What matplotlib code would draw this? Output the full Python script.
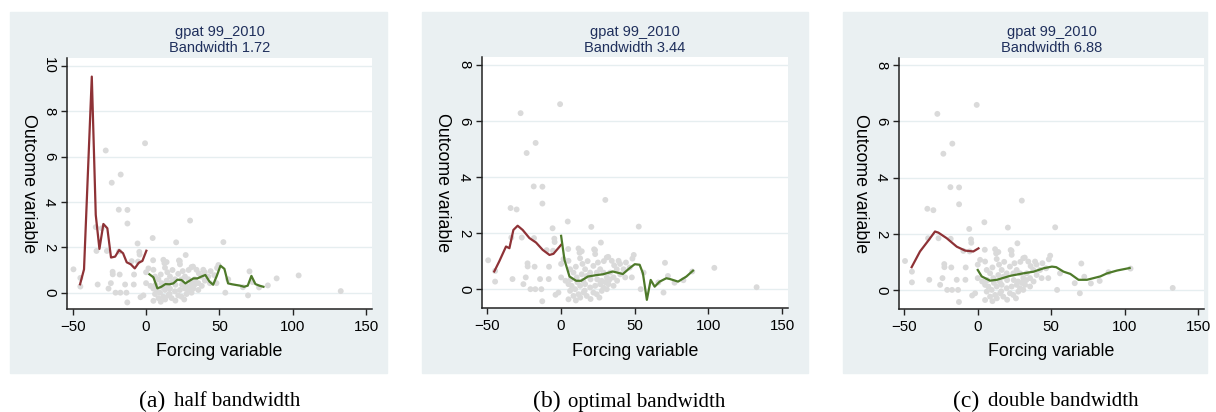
import numpy as np
import matplotlib
matplotlib.use('Agg')
import matplotlib.pyplot as plt
from matplotlib.patches import Rectangle

plt.rcParams['font.family'] = ['Liberation Sans', 'DejaVu Sans']

# scatter of raw observations (same in all panels)
pts_x = [-49.5, -44.8, -44.8, -33.0, -34.3, -30.2, -27.5, -23.4, -17.3, -18.6, -12.7, -12.7,
         -33.8, -26.7, -18.4, -25.6, -24.0, -22.8, -22.7, -18.0, -20.8, -17.5, -13.4, -14.3,
         -12.8, -8.2, -8.4, -5.8, -4.6, -4.4, -5.5, -9.8, -3.8, -1.8, -0.7, 0.0, 0.0,
         4.5, 20.5, 52.7, 30.0, 27.0, 4.8, 11.8, 14.0, 23.0, 32.0, 49.3, 48.4, 70.5, 69.5,
         54.0, 66.0, 77.0, 83.0, 89.0, 104.0, 132.7, 72.5, 56.0,
         12.5, 12.9, 22.4, 23.1, 31.0, 34.4, 39.0, 1.6, 5.0, 6.1, 8.4, 10.6, 14.0, 16.3,
         17.4, 19.7, 21.9, 24.2, 26.5, 28.8, 31.0, 33.3, 35.6, 37.8, 40.1, 42.4, 43.5, 46.5,
         48.0, 5.0, 7.2, 9.5, 12.9, 16.3, 19.7, 23.1, 26.5, 28.8, 32.2, 35.6, 8.4, 11.8,
         15.2, 17.4, 21.9, 24.2, 27.6, 31.0, 6.1, 5.0, 3.0, 10.0, 14.5, 18.0, 25.0, 29.0,
         36.0, 40.0, 44.0, 6.5, 11.0, 15.0, 20.0, 24.5, 27.5, 30.0, 33.0, 38.0, 13.0, 20.0,
         26.0, 10.0, 16.0]
pts_y = [1.03, 0.65, 0.27, 0.36, 2.89, 2.84, 6.27, 4.85, 5.21, 3.66, 3.65, 3.05,
         1.84, 1.84, 1.82, 0.18, 0.42, 0.92, 0.81, 0.80, 0.0, 0.0, 0.0, 0.36,
         -0.43, 0.80, 0.36, 2.17, 1.80, 1.68, 1.37, 1.39, -0.20, -0.12, 6.59, 0.90, 0.42,
         2.41, 2.22, 2.23, 3.18, 1.66, 1.43, 1.45, 1.35, 1.39, 1.15, 1.22, 1.09, 0.94, -0.12,
         0.0, 0.24, 0.23, 0.32, 0.63, 0.76, 0.07, 0.47, 0.59,
         1.30, 1.10, 1.42, 1.25, 1.13, 1.01, 1.01, 1.07, 1.01, 0.71, 0.59, 0.42, 0.53, 0.71,
         0.47, 0.59, 0.83, 0.59, 0.71, 0.59, 0.42, 0.59, 0.42, 0.71, 0.53, 0.71, 0.42, 0.77,
         0.42, 0.18, 0.12, 0.0, 0.12, 0.18, 0.06, 0.12, 0.18, 0.06, 0.18, 0.12, -0.24, -0.18,
         -0.12, -0.24, -0.12, -0.18, -0.06, 0.0, -0.06, -0.36, 0.30, 0.80, 0.90, 1.00, 0.95, 1.00,
         0.85, 0.90, 0.95, 0.35, 0.25, 0.30, 0.35, 0.35, 0.30, 0.25, 0.35, 0.30, -0.30, -0.35,
         -0.30, -0.40, -0.05]

# local fits, panel (a) half bandwidth
a_left_x = [-45.0, -42.3, -37.0, -34.3, -31.8, -29.1, -26.4, -23.9, -21.1, -18.4, -15.7,
            -13.2, -10.4, -7.7, -5.0, -2.5, 0.2]
a_left_y = [0.37, 1.03, 9.53, 3.43, 1.93, 3.03, 2.84, 1.55, 1.59, 1.88, 1.74,
            1.34, 1.25, 1.07, 1.32, 1.40, 1.85]
a_right_x = [2.3, 5.0, 7.7, 10.4, 13.2, 15.9, 18.6, 21.3, 24.1, 26.8, 29.5, 32.3, 35.0, 37.7,
             40.4, 43.2, 45.7, 48.2, 50.7, 53.4, 55.9, 58.6, 61.3, 64.1, 66.8, 69.3, 71.8,
             74.5, 77.2, 80.0]
a_right_y = [0.81, 0.68, 0.19, 0.26, 0.38, 0.37, 0.41, 0.57, 0.56, 0.41, 0.52, 0.63, 0.63, 0.71,
             0.78, 0.49, 0.35, 0.74, 1.19, 1.05, 0.41, 0.37, 0.34, 0.31, 0.26, 0.31, 0.74,
             0.38, 0.31, 0.26]

# panel (b) optimal bandwidth
b_left_x = [-45.4, -42.0, -37.4, -35.1, -32.4, -29.5, -26.1, -21.5, -17.0, -12.5, -7.9, -5.2, 0.0]
b_left_y = [0.63, 0.99, 1.52, 1.46, 2.11, 2.26, 2.11, 1.82, 1.66, 1.40, 1.22, 1.26, 1.58]
b_right_x = [0.0, 2.3, 5.7, 10.2, 13.6, 18.1, 23.8, 28.3, 35.1, 41.9, 46.5, 50.0, 53.3,
             55.5, 58.2, 60.8, 63.5, 66.9, 71.4, 74.0, 79.4, 85.0, 89.5]
b_right_y = [1.90, 1.04, 0.45, 0.30, 0.30, 0.45, 0.50, 0.53, 0.63, 0.54, 0.75, 0.89, 0.87,
             0.57, -0.38, 0.33, 0.09, 0.27, 0.39, 0.36, 0.27, 0.45, 0.66]

# panel (c) double bandwidth
c_left_x = [-45.0, -39.3, -33.6, -29.1, -26.8, -21.1, -14.3, -8.6, -3.0, 0.5]
c_left_y = [0.81, 1.37, 1.76, 2.08, 2.04, 1.84, 1.54, 1.40, 1.37, 1.48]
c_right_x = [0.0, 2.7, 8.4, 13.0, 22.0, 31.0, 38.0, 44.8, 50.5, 53.4, 58.4, 63.0, 68.6,
             74.3, 83.4, 88.0, 94.8, 103.4]
c_right_y = [0.71, 0.48, 0.33, 0.36, 0.50, 0.59, 0.65, 0.77, 0.83, 0.81, 0.65, 0.57, 0.36,
             0.36, 0.48, 0.59, 0.69, 0.78]

bandwidths = ['1.72', '3.44', '6.88']
captions = [('(a)', 'half bandwidth'), ('(b)', 'optimal bandwidth'), ('(c)', 'double bandwidth')]

W, H = 1216, 412
bg = '#eaf0f2'
red = '#8e3236'
green = '#4e7a2a'
navy = '#1f2f5c'

fig = plt.figure(figsize=(W / 100, H / 100), dpi=100)


def fx(px):
    return px / W


def fy(py):
    return 1 - py / H


# pixel boxes: background (l, t, r, b), axes (l, t, r, b), caption left edge
panels = [
    dict(bg=(10, 12, 387, 373), ax=(67, 58, 372, 309), xlim=(-53.9, 154), ylim=(-0.72, 10.35),
         yticks=[0, 2, 4, 6, 8, 10], left=(a_left_x, a_left_y), right=(a_right_x, a_right_y), cap=139),
    dict(bg=(422, 12, 808, 373), ax=(482, 57, 788, 308), xlim=(-53.7, 154), ylim=(-0.67, 8.27),
         yticks=[0, 2, 4, 6, 8], left=(b_left_x, b_left_y), right=(b_right_x, b_right_y), cap=533),
    dict(bg=(843, 12, 1207, 373), ax=(899, 58, 1204, 309), xlim=(-53.6, 154), ylim=(-0.68, 8.26),
         yticks=[0, 2, 4, 6, 8], left=(c_left_x, c_left_y), right=(c_right_x, c_right_y), cap=953),
]

for i, p in enumerate(panels):
    l, t, r, b = p['bg']
    fig.patches.append(Rectangle((fx(l), fy(b)), fx(r - l), (b - t) / H,
                                 transform=fig.transFigure, color=bg, zorder=-10))
    l, t, r, b = p['ax']
    ax = fig.add_axes([fx(l), fy(b), fx(r - l), (b - t) / H])
    ax.set_zorder(1)
    ax.set_facecolor('white')
    ax.scatter(pts_x, pts_y, s=18, color='#dadada', edgecolors='none', zorder=2)
    ax.plot(*p['left'], color=red, lw=1.6, zorder=3)
    ax.plot(*p['right'], color=green, lw=1.6, zorder=3)
    ax.set_xlim(*p['xlim'])
    ax.set_ylim(*p['ylim'])
    ax.set_xticks([-50, 0, 50, 100, 150])
    ax.set_yticks(p['yticks'])
    ax.yaxis.grid(True, color='#e6eef0', lw=1.0, zorder=1)
    ax.set_axisbelow(True)
    for s in ['top', 'right']:
        ax.spines[s].set_visible(False)
    for s in ['left', 'bottom']:
        ax.spines[s].set_color('#222222')
        ax.spines[s].set_linewidth(1.1)
    ax.tick_params(axis='both', length=4, width=1, color='#222222', labelsize=10.8, pad=4)
    ax.tick_params(axis='y', labelrotation=270)
    for lab in ax.get_yticklabels():
        lab.set_verticalalignment('center')

    cx = (l + r) / 2
    fig.text(fx(cx), fy(32), 'gpat 99_2010', ha='center', va='center', fontsize=10.5, color=navy)
    fig.text(fx(cx), fy(48), 'Bandwidth ' + bandwidths[i], ha='center', va='center',
             fontsize=10.5, color=navy)
    fig.text(fx(cx), fy(352), 'Forcing variable', ha='center', va='center', fontsize=12.8)
    fig.text(fx(l - 39), fy((t + b) / 2), 'Outcome variable', ha='center', va='center',
             rotation=270, fontsize=12.8)

    cap = p['cap']
    fig.text(fx(cap), fy(401), captions[i][0], ha='left', va='center', fontsize=17,
             family='Liberation Serif')
    fig.text(fx(cap + 35), fy(402), captions[i][1], ha='left', va='center', fontsize=15,
             family='Liberation Serif')

fig.savefig('out.png', dpi=100)
